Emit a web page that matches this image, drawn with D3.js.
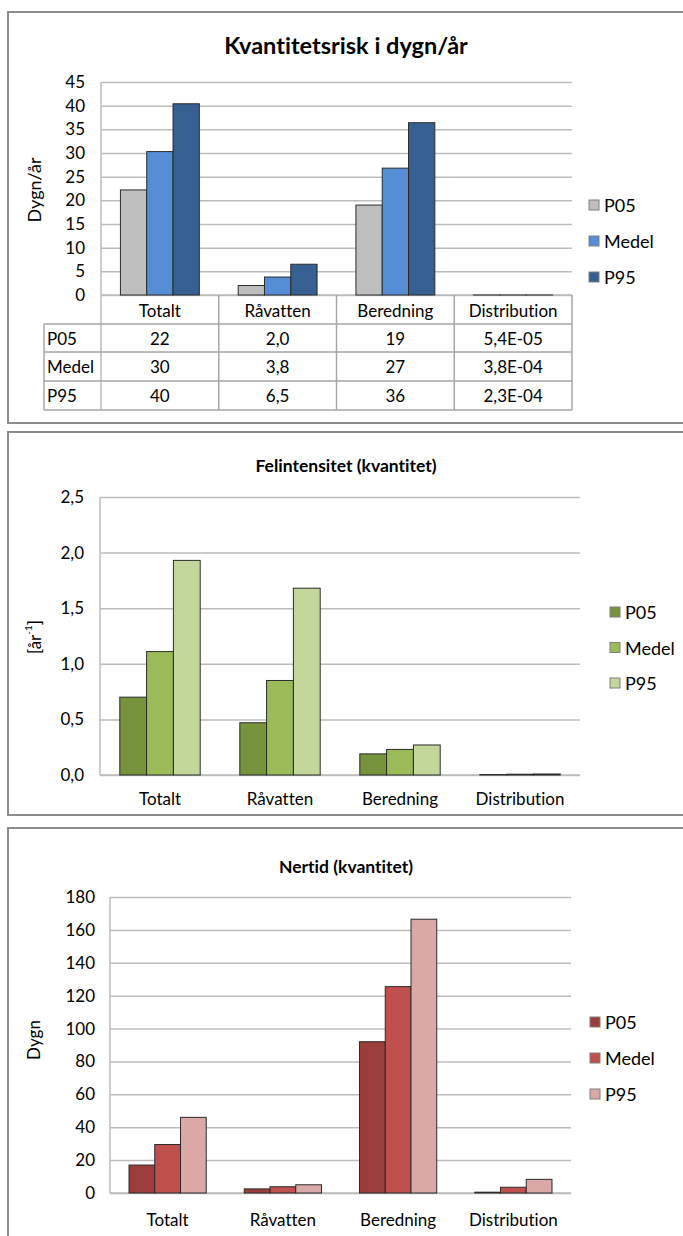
<!DOCTYPE html>
<html>
<head>
<meta charset="utf-8">
<script src="https://cdn.jsdelivr.net/npm/d3@7"></script>
<style>
  html, body { margin: 0; padding: 0; background: #fff; }
  svg { display: block; font-family: Lato, "Open Sans", sans-serif; font-variant-ligatures: none; }
</style>
</head>
<body>
<svg id="chart" width="683" height="1236"></svg>
<script>
// Shared categories and series
const categories = ["Totalt", "Råvatten", "Beredning", "Distribution"];
const seriesNames = ["P05", "Medel", "P95"];

// Kvantitetsrisk i dygn/år
const riskP05 = [22.2, 2.0, 19.0, 5.4e-5];
const riskMedel = [30.3, 3.8, 26.8, 3.8e-4];
const riskP95 = [40.4, 6.5, 36.4, 2.3e-4];
const riskTicks = [0, 5, 10, 15, 20, 25, 30, 35, 40, 45];
const riskColors = ["#bfbfbf", "#558ed5", "#376092"];

// Felintensitet (kvantitet)
const intensityP05 = [0.70, 0.47, 0.19, 0.004];
const intensityMedel = [1.11, 0.85, 0.23, 0.007];
const intensityP95 = [1.93, 1.68, 0.27, 0.009];
const intensityTicks = [0, 0.5, 1.0, 1.5, 2.0, 2.5];
const intensityColors = ["#77933c", "#9bbb59", "#c4d79b"];

// Nertid (kvantitet)
const downtimeP05 = [17, 2.5, 92, 0.5];
const downtimeMedel = [29.5, 3.8, 125.5, 3.5];
const downtimeP95 = [46, 5, 166.5, 8.3];
const downtimeTicks = [0, 20, 40, 60, 80, 100, 120, 140, 160, 180];
const downtimeColors = ["#9b3d3b", "#c0504d", "#daa8a7"];

const sv = d3.formatLocale({ decimal: ",", thousands: " ", grouping: [3], currency: ["", " kr"] });
const fmtInt = sv.format("d");
const fmtOne = sv.format(".1f");
const fmtTwoSig = sv.format(".2r");

// Excel-style scientific notation with decimal comma: 5,4E-05
function fmtSci(v) {
  const [m, e] = v.toExponential(1).split("e");
  const exp = parseInt(e, 10);
  const sign = exp < 0 ? "-" : "+";
  return m.replace(".", ",") + "E" + sign + String(Math.abs(exp)).padStart(2, "0");
}
function fmtTable(v) { return v < 0.01 ? fmtSci(v) : fmtTwoSig(v); }

const LABEL = 17;
const svg = d3.select("#chart");

function drawPanel(cfg) {
  const g = svg.append("g");

  // outer frame
  g.append("rect")
    .attr("x", cfg.frame.x).attr("y", cfg.frame.y)
    .attr("width", cfg.frame.w).attr("height", cfg.frame.h)
    .attr("fill", "#fff").attr("stroke", "#8c8c8c").attr("stroke-width", 2);

  // title
  g.append("text")
    .attr("x", cfg.titleX).attr("y", cfg.titleY)
    .attr("text-anchor", "middle").attr("dominant-baseline", "central")
    .attr("font-weight", "bold").attr("font-size", cfg.titleSize)
    .attr("fill", "#000").text(cfg.title);

  const x0 = d3.scaleBand().domain(categories).range([cfg.left, cfg.right]).padding(0);
  const gap = x0.bandwidth() * 0.165;
  const x1 = d3.scaleBand().domain(seriesNames).range([gap, x0.bandwidth() - gap]).padding(0);
  const y = d3.scaleLinear().domain([0, d3.max(cfg.ticks)]).range([cfg.bottom, cfg.top]);

  // gridlines + tick labels through a left axis
  const yAxis = d3.axisLeft(y).tickValues(cfg.ticks).tickFormat(cfg.tickFormat)
    .tickSize(-(cfg.right - cfg.left)).tickPadding(cfg.tickPad);
  const ya = g.append("g").attr("transform", `translate(${cfg.left},0)`).call(yAxis);
  ya.select(".domain").remove();
  ya.selectAll(".tick line").attr("stroke", "#bcbcbc").attr("stroke-width", 1.5);
  ya.selectAll(".tick text").attr("font-size", LABEL).attr("fill", "#000")
    .attr("font-family", "Lato, sans-serif");

  // vertical axis line
  g.append("line")
    .attr("x1", cfg.left).attr("x2", cfg.left)
    .attr("y1", cfg.top).attr("y2", cfg.axisLineBottom || cfg.bottom)
    .attr("stroke", "#bcbcbc").attr("stroke-width", 1.5);

  // baseline
  g.append("line")
    .attr("x1", cfg.left).attr("x2", cfg.right)
    .attr("y1", cfg.bottom).attr("y2", cfg.bottom)
    .attr("stroke", "#bcbcbc").attr("stroke-width", 1.5);

  // bars
  const rows = categories.map((c, i) => ({ cat: c, values: cfg.series.map((s, k) => ({ key: seriesNames[k], v: s[i] })) }));
  const groups = g.selectAll("g.grp").data(rows).enter().append("g")
    .attr("transform", d => `translate(${x0(d.cat)},0)`);
  groups.selectAll("rect").data(d => d.values).enter().append("rect")
    .attr("x", d => x1(d.key))
    .attr("y", d => y(d.v))
    .attr("width", x1.bandwidth())
    .attr("height", d => cfg.bottom - y(d.v))
    .attr("fill", (d, k) => cfg.colors[k])
    .attr("stroke", "#2b2b2b").attr("stroke-width", 1);

  // category labels
  g.selectAll("text.cat").data(categories).enter().append("text")
    .attr("x", d => x0(d) + x0.bandwidth() / 2)
    .attr("y", cfg.catY)
    .attr("text-anchor", "middle").attr("dominant-baseline", "central")
    .attr("font-size", LABEL).attr("fill", "#000").text(d => d);

  // y axis title
  const yt = g.append("text")
    .attr("transform", `translate(${cfg.yTitleX},${cfg.yTitleY}) rotate(-90)`)
    .attr("text-anchor", "middle").attr("dominant-baseline", "central")
    .attr("font-size", cfg.yTitleSize || 17).attr("fill", "#000");
  cfg.yTitle(yt);

  // legend
  const lg = g.selectAll("g.leg").data(seriesNames).enter().append("g")
    .attr("transform", (d, k) => `translate(${cfg.legendX},${cfg.legendY + k * cfg.legendStep})`);
  lg.append("rect").attr("x", 0).attr("y", -5).attr("width", 10).attr("height", 10)
    .attr("fill", (d, k) => cfg.colors[k]).attr("stroke", "#7f7f7f").attr("stroke-width", 1);
  lg.append("text").attr("x", 15).attr("y", 0).attr("dominant-baseline", "central")
    .attr("font-size", 18).attr("fill", "#000").text(d => d);

  return { g, x0, y };
}

// ---- Panel 1: risk with data table ----
const p1 = drawPanel({
  frame: { x: 8, y: 12, w: 700, h: 411 },
  title: "Kvantitetsrisk i dygn/år", titleX: 346, titleY: 45, titleSize: 23.5,
  left: 101, right: 572, top: 82, bottom: 295, axisLineBottom: 410,
  ticks: riskTicks, tickFormat: fmtInt, tickPad: 16,
  series: [riskP05, riskMedel, riskP95], colors: riskColors,
  catY: 310,
  yTitleX: 34, yTitleY: 190, yTitleSize: 18, yTitle: t => t.text("Dygn/år"),
  legendX: 589, legendY: 205, legendStep: 36
});

// data table under the first chart
(function drawTable() {
  const g = p1.g.append("g");
  const x0 = p1.x0;
  const rowTops = [324, 352, 381];
  const rowH = [28, 29, 29];
  const tableBottom = 410;
  const tableLeft = 44;
  const lineColor = "#a6a6a6";
  const seriesData = [riskP05, riskMedel, riskP95];

  // horizontal rules
  rowTops.concat([tableBottom]).forEach(yy => {
    g.append("line").attr("x1", tableLeft).attr("x2", 572).attr("y1", yy).attr("y2", yy)
      .attr("stroke", lineColor).attr("stroke-width", 1.5);
  });
  // vertical rules
  g.append("line").attr("x1", tableLeft).attr("x2", tableLeft).attr("y1", 324).attr("y2", tableBottom)
    .attr("stroke", lineColor).attr("stroke-width", 1.5);
  categories.forEach(c => {
    const xr = x0(c) + x0.bandwidth();
    g.append("line").attr("x1", xr).attr("x2", xr).attr("y1", 295).attr("y2", tableBottom)
      .attr("stroke", lineColor).attr("stroke-width", 1.5);
  });

  seriesNames.forEach((name, k) => {
    const cy = rowTops[k] + rowH[k] / 2;
    g.append("text").attr("x", tableLeft + 3).attr("y", cy).attr("dominant-baseline", "central")
      .attr("font-size", LABEL).attr("fill", "#000").text(name);
    categories.forEach((c, i) => {
      g.append("text").attr("x", x0(c) + x0.bandwidth() / 2).attr("y", cy)
        .attr("text-anchor", "middle").attr("dominant-baseline", "central")
        .attr("font-size", LABEL).attr("fill", "#000").text(fmtTable(seriesData[k][i]));
    });
  });
})();

// ---- Panel 2: failure intensity ----
drawPanel({
  frame: { x: 8, y: 432, w: 700, h: 383 },
  title: "Felintensitet (kvantitet)", titleX: 346, titleY: 465, titleSize: 17.5,
  left: 100, right: 580, top: 497, bottom: 775,
  ticks: intensityTicks, tickFormat: fmtOne, tickPad: 16,
  series: [intensityP05, intensityMedel, intensityP95], colors: intensityColors,
  catY: 798,
  yTitleX: 34, yTitleY: 637,
  yTitle: t => {
    t.append("tspan").text("[år");
    t.append("tspan").attr("font-size", 10).attr("dy", -6).text("-1");
    t.append("tspan").attr("dy", 6).text("]");
  },
  legendX: 610, legendY: 612, legendStep: 35.5
});

// ---- Panel 3: downtime ----
drawPanel({
  frame: { x: 8, y: 828, w: 700, h: 420 },
  title: "Nertid (kvantitet)", titleX: 346, titleY: 866, titleSize: 17.5,
  left: 110, right: 571, top: 897, bottom: 1193,
  ticks: downtimeTicks, tickFormat: fmtInt, tickPad: 15,
  series: [downtimeP05, downtimeMedel, downtimeP95], colors: downtimeColors,
  catY: 1219,
  yTitleX: 33, yTitleY: 1040, yTitle: t => t.text("Dygn"),
  legendX: 590, legendY: 1022, legendStep: 36
});
</script>
</body>
</html>
